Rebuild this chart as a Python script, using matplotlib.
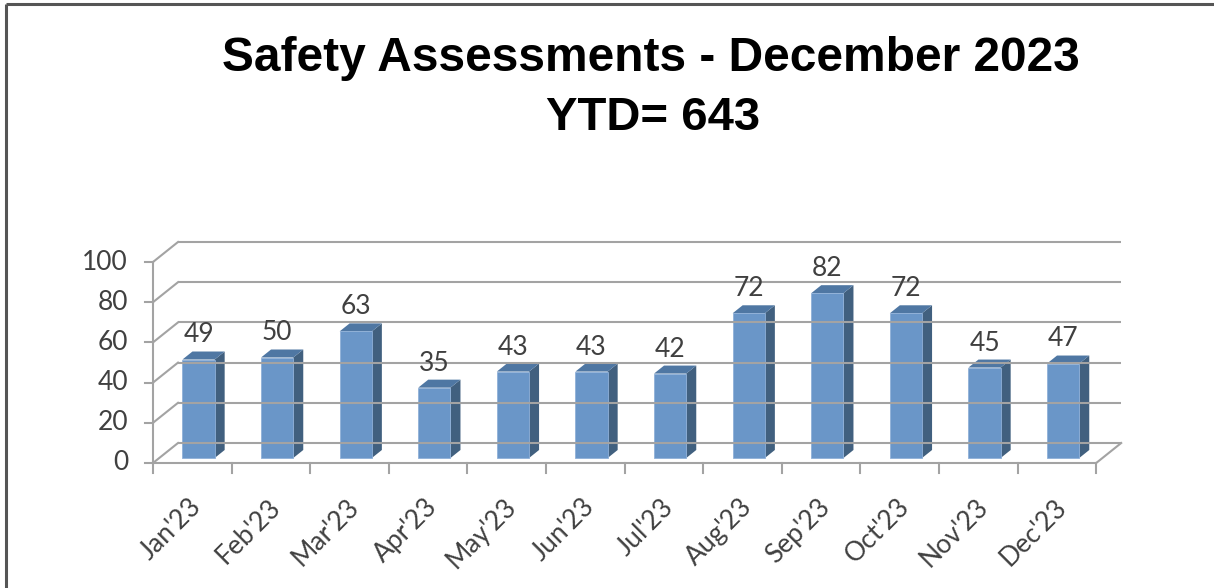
import matplotlib
matplotlib.use("Agg")
import matplotlib.pyplot as plt
from matplotlib.patches import Polygon

# Chart data
months = ["Jan'23", "Feb'23", "Mar'23", "Apr'23", "May'23", "Jun'23",
          "Jul'23", "Aug'23", "Sep'23", "Oct'23", "Nov'23", "Dec'23"]
counts = [49, 50, 63, 35, 43, 43, 42, 72, 82, 72, 45, 47]
y_ticks = [0, 20, 40, 60, 80, 100]
title_line1 = "Safety Assessments - December 2023"
title_line2 = "YTD= 643"

# Layout of the fake 3D box (pixels -> data units)
W, H = 1214, 588
X0, Y0 = 153, 463          # pixel of (category 0, value 0)
PX_CAT, PX_VAL = 78.6, 2.01
DX, DY = 25 / PX_CAT, 20 / PX_VAL   # back-wall offset
D0, D1 = 0.25, 0.65        # bar depth (front, back) as fraction of box depth
BAR_W = 0.41

FRONT = "#6a96c8"
SIDE = "#41607f"
TOP = "#4f77a3"
GRID = "#a3a3a3"
TXT = "#404040"
LABEL_SIZE = 19

fig = plt.figure(figsize=(W / 100, H / 100), dpi=100)
ax = fig.add_axes([0, 0, 1, 1])
ax.set_xlim(-X0 / PX_CAT, (W - X0) / PX_CAT)
ax.set_ylim((Y0 - H) / PX_VAL, Y0 / PX_VAL)
ax.axis("off")

n = len(months)
ymax = y_ticks[-1]

# back wall gridlines + left wall diagonals
for v in y_ticks:
    ax.plot([DX, n + DX], [v + DY, v + DY], color=GRID, lw=1.5, solid_capstyle="butt")
    ax.plot([0, DX], [v, v + DY], color=GRID, lw=1.5)
    ax.plot([-8 / PX_CAT, 0], [v, v], color=GRID, lw=1.5)
    ax.text(-25 / PX_CAT, v, str(v), ha="right", va="center",
            fontsize=LABEL_SIZE, color=TXT, family="Lato")

# axes lines: vertical axis, floor front edge, floor right edge
ax.plot([0, 0], [0, ymax], color=GRID, lw=1.5)
ax.plot([0, n], [0, 0], color=GRID, lw=1.5)
ax.plot([n, n + DX], [0, DY], color=GRID, lw=1.5)
for i in range(n + 1):
    ax.plot([i, i], [0, -10 / PX_VAL], color=GRID, lw=1.5)

# bars drawn as front / side / top faces
for i, v in enumerate(counts):
    x1 = i + 0.5 - BAR_W / 2 + D0 * DX
    x2 = x1 + BAR_W
    yb = D0 * DY
    sx, sy = (D1 - D0) * DX, (D1 - D0) * DY
    ax.add_patch(Polygon([(x2, yb), (x2 + sx, yb + sy), (x2 + sx, v + yb + sy), (x2, v + yb)],
                         closed=True, facecolor=SIDE, edgecolor="none"))
    ax.add_patch(Polygon([(x1, v + yb), (x2, v + yb), (x2 + sx, v + yb + sy), (x1 + sx, v + yb + sy)],
                         closed=True, facecolor=TOP, edgecolor="none"))
    ax.add_patch(Polygon([(x1, yb), (x2, yb), (x2, v + yb), (x1, v + yb)],
                         closed=True, facecolor=FRONT, edgecolor="#8fb0d8", lw=0.6))
    ax.text((x1 + x2) / 2, v + D1 * DY + 4.5, str(v), ha="center", va="baseline",
            fontsize=LABEL_SIZE, color=TXT, family="Lato")

# category labels, rotated 45 degrees
for i, m in enumerate(months):
    ax.text(i + 0.57, -40 / PX_VAL, m, rotation=45, rotation_mode="anchor",
            ha="right", va="center", fontsize=LABEL_SIZE, color=TXT, family="Lato")

# titles
fig.text(651 / W, 1 - 71 / H, title_line1, ha="center", va="baseline",
         fontsize=34.5, fontweight="bold", color="black", family="Liberation Sans")
fig.text(653 / W, 1 - 130 / H, title_line2, ha="center", va="baseline",
         fontsize=34, fontweight="bold", color="black", family="Liberation Sans")

# chart frame
ax.plot([5.5 / PX_CAT - X0 / PX_CAT] * 2, [(Y0 - H) / PX_VAL, (Y0 - 4) / PX_VAL],
        color="#555555", lw=2.2, solid_capstyle="butt")
ax.plot([5.5 / PX_CAT - X0 / PX_CAT, (W - X0) / PX_CAT], [(Y0 - 4) / PX_VAL] * 2,
        color="#555555", lw=2.2, solid_capstyle="butt")

fig.savefig("out.png", dpi=100)
